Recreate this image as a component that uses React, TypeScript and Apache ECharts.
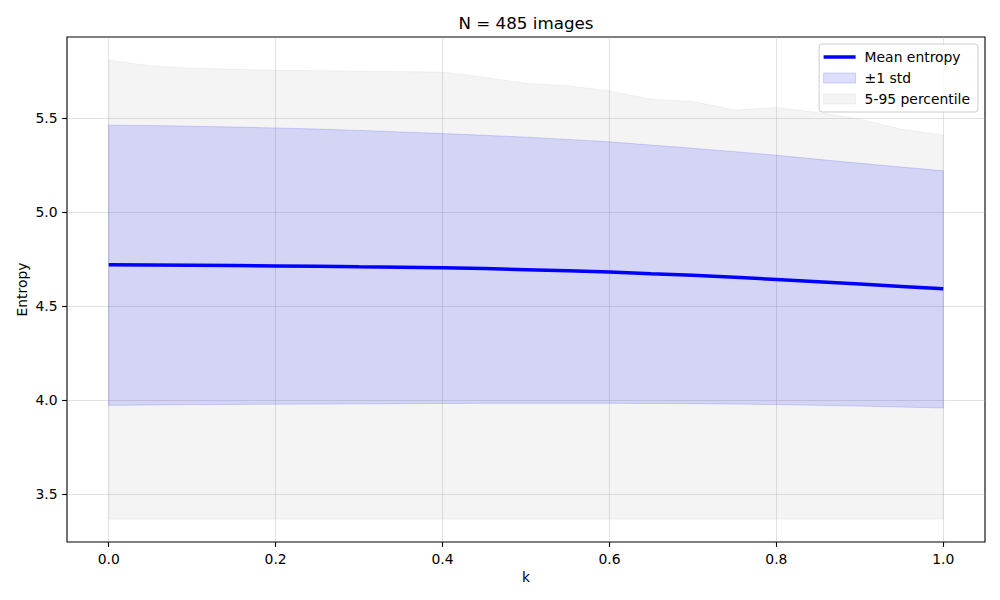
import { useEffect, useRef } from "react";
import * as echarts from "echarts";

// k sampled every 0.05
const K = [0, 0.05, 0.1, 0.15, 0.2, 0.25, 0.3, 0.35, 0.4, 0.45, 0.5, 0.55, 0.6, 0.65, 0.7, 0.75, 0.8, 0.85, 0.9, 0.95, 1.0];
const MEAN = [4.72, 4.719, 4.718, 4.716, 4.714, 4.712, 4.709, 4.707, 4.704, 4.7, 4.694, 4.688, 4.681, 4.672, 4.664, 4.654, 4.642, 4.63, 4.618, 4.605, 4.592];
const STD_LO = [3.972, 3.974, 3.976, 3.977, 3.978, 3.979, 3.98, 3.981, 3.982, 3.983, 3.983, 3.983, 3.983, 3.982, 3.981, 3.979, 3.976, 3.972, 3.968, 3.963, 3.958];
const STD_HI = [5.463, 5.461, 5.457, 5.453, 5.448, 5.442, 5.435, 5.427, 5.418, 5.409, 5.399, 5.387, 5.374, 5.357, 5.34, 5.322, 5.303, 5.281, 5.26, 5.24, 5.22];
const P5 = [3.367, 3.367, 3.367, 3.367, 3.367, 3.367, 3.367, 3.367, 3.367, 3.367, 3.367, 3.367, 3.367, 3.367, 3.367, 3.367, 3.367, 3.367, 3.367, 3.367, 3.367];
const P95 = [5.81, 5.778, 5.766, 5.76, 5.755, 5.753, 5.75, 5.748, 5.745, 5.718, 5.686, 5.672, 5.645, 5.601, 5.589, 5.543, 5.557, 5.53, 5.495, 5.441, 5.41];
const X_TICKS = [0, 0.2, 0.4, 0.6, 0.8, 1.0];
const Y_TICKS = [3.5, 4.0, 4.5, 5.0, 5.5];

const FONT = "DejaVu Sans";
const GRAY_FILL = "rgba(128,128,128,0.09)";
const BLUE_FILL = "rgba(0,0,255,0.13)";
const BLUE_EDGE = "rgba(0,0,255,0.15)";
const GRID_LINE = "rgba(176,176,176,0.35)";

// one polygon per band, built from [k, lo, hi] rows
const bandItem = (fill: string, stroke: string) => (params: any, api: any) => {
  if (params.dataIndexInside !== 0) return null;
  const n = params.dataInsideLength;
  const top: number[][] = [];
  const bot: number[][] = [];
  for (let i = 0; i < n; i++) {
    top.push(api.coord([api.value(0, i), api.value(2, i)]));
    bot.push(api.coord([api.value(0, i), api.value(1, i)]));
  }
  return {
    type: "polygon",
    shape: { points: top.concat(bot.reverse()) },
    style: { fill, stroke, lineWidth: 1 },
    silent: true,
  };
};

const axisText = { fontFamily: FONT, fontSize: 13.9, color: "#000" };

export default function App() {
  const ref = useRef<HTMLDivElement>(null);

  useEffect(() => {
    if (!ref.current) return;
    const chart = echarts.init(ref.current, undefined, { renderer: "svg" });

    chart.setOption({
      animation: false,
      textStyle: { fontFamily: FONT },
      title: {
        text: "N = 485 images",
        left: 526,
        textAlign: "center",
        top: 14,
        padding: 0,
        textStyle: { fontFamily: FONT, fontSize: 16.7, fontWeight: "normal", color: "#000" },
      },
      legend: {
        orient: "vertical",
        right: 22,
        top: 44,
        padding: [5, 8, 5, 4],
        itemWidth: 32,
        itemHeight: 10,
        itemGap: 5,
        backgroundColor: "rgba(255,255,255,0.8)",
        borderColor: "#cccccc",
        borderWidth: 1,
        borderRadius: 3,
        textStyle: { ...axisText, lineHeight: 16, padding: [0, 0, 0, 4] },
        data: [
          { name: "Mean entropy", icon: "path://M0 0H32V3.5H0Z", itemStyle: { color: "#0000ff" } },
          { name: "±1 std", icon: "rect", itemStyle: { color: BLUE_FILL, borderColor: BLUE_EDGE, borderWidth: 1 } },
          { name: "5-95 percentile", icon: "rect", itemStyle: { color: GRAY_FILL, borderColor: GRAY_FILL, borderWidth: 1 } },
        ],
      },
      grid: {
        left: 67,
        right: 15,
        top: 37,
        bottom: 58,
        show: true,
        borderColor: "#000",
        borderWidth: 1.1,
        backgroundColor: "transparent",
      },
      xAxis: {
        type: "value",
        min: -0.05,
        max: 1.05,
        name: "k",
        nameLocation: "middle",
        nameGap: 28,
        nameMoveOverlap: false,
        nameTextStyle: axisText,
        axisLine: { show: false, onZero: false },
        axisTick: { show: true, length: 4.9, customValues: X_TICKS, lineStyle: { color: "#000", width: 1.1 } },
        axisLabel: { ...axisText, customValues: X_TICKS, margin: 9.5, formatter: (v: number) => v.toFixed(1) },
        splitLine: { show: true, lineStyle: { color: GRID_LINE, width: 1.1 } },
      },
      yAxis: {
        type: "value",
        min: 3.245,
        max: 5.932,
        name: "Entropy",
        nameLocation: "middle",
        nameGap: 38,
        nameMoveOverlap: false,
        nameTextStyle: axisText,
        axisLine: { show: false, onZero: false },
        axisTick: { show: true, length: 4.9, customValues: Y_TICKS, lineStyle: { color: "#000", width: 1.1 } },
        axisLabel: { ...axisText, customValues: Y_TICKS, margin: 9.5, formatter: (v: number) => v.toFixed(1) },
        splitLine: { show: true, lineStyle: { color: GRID_LINE, width: 1.1 } },
      },
      series: [
        {
          name: "5-95 percentile",
          type: "custom",
          data: K.map((k, i) => [k, P5[i], P95[i]]),
          encode: { x: 0, y: [1, 2] },
          itemStyle: { color: GRAY_FILL },
          renderItem: bandItem(GRAY_FILL, GRAY_FILL),
          clip: true,
          silent: true,
          z: 1,
        },
        {
          name: "±1 std",
          type: "custom",
          data: K.map((k, i) => [k, STD_LO[i], STD_HI[i]]),
          encode: { x: 0, y: [1, 2] },
          itemStyle: { color: BLUE_FILL },
          renderItem: bandItem(BLUE_FILL, BLUE_EDGE),
          clip: true,
          silent: true,
          z: 2,
        },
        {
          name: "Mean entropy",
          type: "line",
          data: K.map((k, i) => [k, MEAN[i]]),
          symbol: "none",
          itemStyle: { color: "#0000ff" },
          lineStyle: { color: "#0000ff", width: 3.5 },
          z: 5,
        },
      ],
    });

    return () => chart.dispose();
  }, []);

  return (
    <div
      ref={ref}
      style={{ position: "fixed", left: 0, top: 0, width: 1000, height: 600, background: "#fff" }}
    />
  );
}
